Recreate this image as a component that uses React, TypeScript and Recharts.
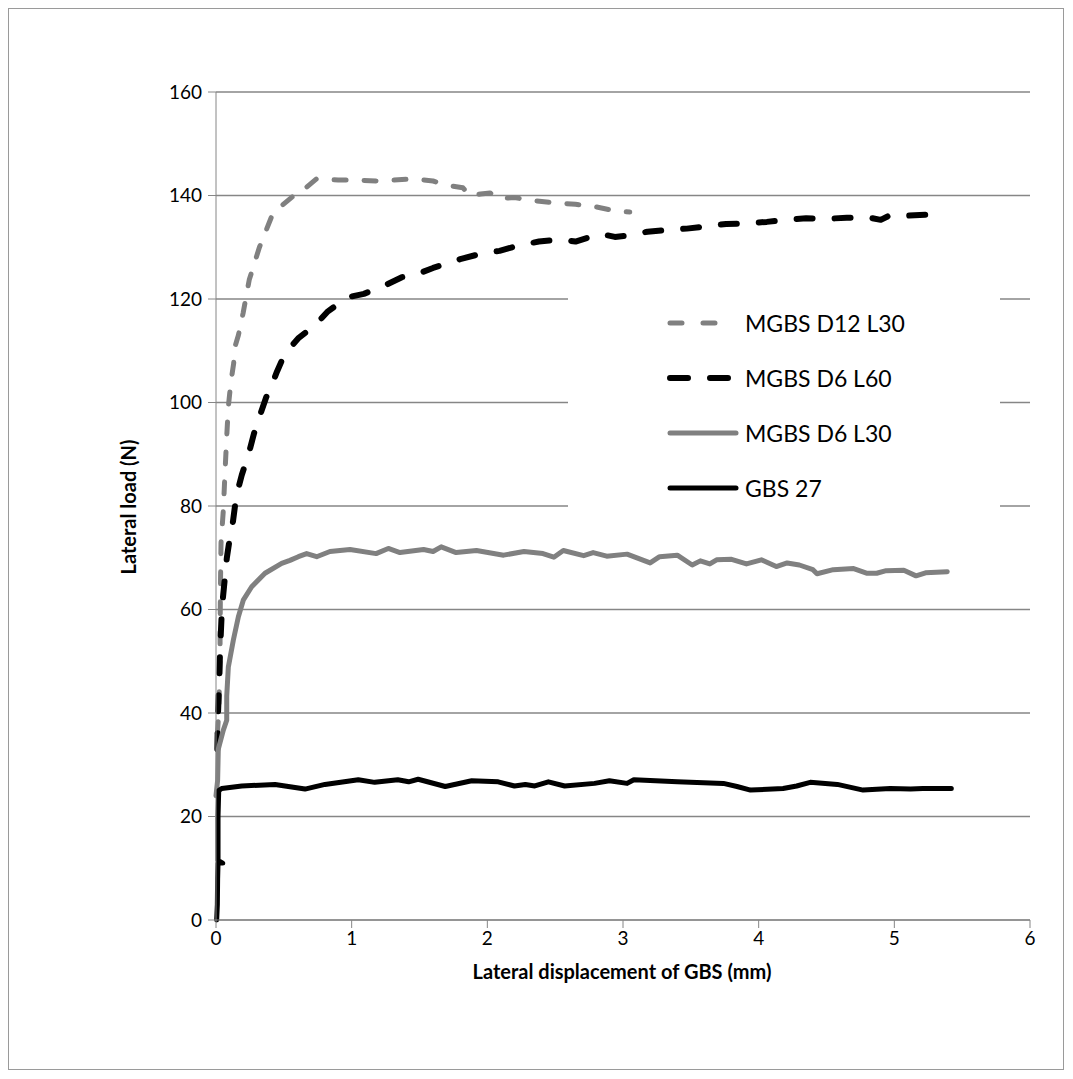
import { LineChart, Line, XAxis, YAxis, CartesianGrid } from "recharts";

// displacement (mm) / load (N) pairs
const d12l30X = [0.01, 0.02, 0.03, 0.03, 0.033, 0.037, 0.054, 0.066, 0.079, 0.091, 0.11, 0.13, 0.14, 0.165, 0.2, 0.245, 0.32, 0.42, 0.56, 0.64, 0.74, 0.9, 1.01, 1.2, 1.45, 1.6, 1.7, 1.82, 1.87, 1.95, 2.02, 2.09, 2.2, 2.31, 2.49, 2.65, 2.8, 2.95, 3.05];
const d12l30Y = [36, 40, 50, 55, 65, 72.8, 79.2, 86.3, 93.4, 99.2, 104, 107.5, 110.8, 113, 117.3, 123.7, 130, 136.6, 139.7, 141, 143.2, 143, 143, 142.8, 143.2, 142.8, 142, 141.5, 139.9, 140.3, 140.5, 139.4, 139.6, 139.1, 138.6, 138.3, 137.8, 137, 136.8];

const d6l60X = [0.01, 0.015, 0.022, 0.03, 0.04, 0.05, 0.065, 0.08, 0.1, 0.125, 0.15, 0.19, 0.24, 0.28, 0.33, 0.37, 0.42, 0.45, 0.5, 0.56, 0.61, 0.7, 0.75, 0.82, 0.94, 1.0, 1.09, 1.22, 1.37, 1.5, 1.6, 1.8, 1.96, 2.09, 2.24, 2.38, 2.54, 2.65, 2.83, 2.94, 3.05, 3.18, 3.3, 3.47, 3.6, 3.76, 3.9, 4.06, 4.2, 4.35, 4.5, 4.65, 4.8, 4.9, 4.97, 5.1, 5.24, 5.32];
const d6l60Y = [33, 40, 45, 52, 58, 62, 66, 70, 73.5, 77, 82, 86, 90, 94, 98, 101, 104, 106, 109, 111, 112.5, 114.3, 115.5, 117.5, 119.8, 120.5, 121, 122.3, 124.2, 125, 126, 127.7, 128.8, 129.3, 130.4, 131.1, 131.5, 131.1, 132.6, 132, 132.3, 133, 133.3, 133.6, 134, 134.5, 134.6, 134.9, 135.3, 135.6, 135.5, 135.7, 135.8, 135.3, 136.2, 136.1, 136.3, 136.2];

const d6l30X = [0, 0.012, 0.017, 0.054, 0.079, 0.079, 0.091, 0.128, 0.165, 0.201, 0.263, 0.361, 0.484, 0.545, 0.607, 0.668, 0.742, 0.84, 0.988, 1.18, 1.27, 1.356, 1.53, 1.6, 1.66, 1.77, 1.92, 2.12, 2.27, 2.41, 2.49, 2.56, 2.71, 2.78, 2.88, 3.03, 3.2, 3.27, 3.4, 3.51, 3.57, 3.64, 3.69, 3.8, 3.91, 4.02, 4.13, 4.21, 4.3, 4.4, 4.43, 4.55, 4.7, 4.8, 4.87, 4.94, 5.07, 5.16, 5.23, 5.39];
const d6l30Y = [24, 27, 33, 36.7, 38.6, 43.2, 48.9, 54.1, 58.6, 61.8, 64.4, 67, 68.9, 69.5, 70.2, 70.8, 70.2, 71.2, 71.6, 70.8, 71.8, 71, 71.6, 71.2, 72.1, 71, 71.4, 70.5, 71.2, 70.8, 70.1, 71.4, 70.4, 71, 70.3, 70.7, 69, 70.2, 70.5, 68.6, 69.4, 68.8, 69.6, 69.7, 68.8, 69.6, 68.3, 69, 68.6, 67.7, 66.9, 67.7, 67.9, 67, 67, 67.5, 67.6, 66.5, 67.1, 67.3];

const gbsX = [0.005, 0.01, 0.012, 0.015, 0.05, 0.015, 0.015, 0.02, 0.042, 0.19, 0.435, 0.656, 0.803, 1.049, 1.17, 1.34, 1.42, 1.49, 1.69, 1.885, 2.08, 2.2, 2.28, 2.35, 2.45, 2.57, 2.79, 2.9, 3.03, 3.08, 3.4, 3.74, 3.84, 3.94, 4.18, 4.28, 4.38, 4.58, 4.77, 4.97, 5.12, 5.21, 5.42];
const gbsY = [0, 3, 8, 11, 11, 11.5, 20, 25, 25.4, 25.9, 26.2, 25.3, 26.2, 27.1, 26.6, 27.1, 26.7, 27.2, 25.8, 26.9, 26.7, 25.9, 26.2, 25.9, 26.7, 25.9, 26.4, 26.9, 26.4, 27.1, 26.7, 26.4, 25.8, 25.1, 25.4, 25.9, 26.6, 26.2, 25.1, 25.4, 25.3, 25.4, 25.4];

const xTicks = [0, 1, 2, 3, 4, 5, 6];
const yTicks = [0, 20, 40, 60, 80, 100, 120, 140, 160];

const toPoints = (xs: number[], ys: number[]) => xs.map((x, i) => ({ x, y: ys[i] }));

const series = [
  { name: "MGBS D12 L30", data: toPoints(d12l30X, d12l30Y), color: "#808080", width: 5, dash: "12 18" },
  { name: "MGBS D6 L60", data: toPoints(d6l60X, d6l60Y), color: "#000000", width: 6, dash: "16 22" },
  { name: "MGBS D6 L30", data: toPoints(d6l30X, d6l30Y), color: "#808080", width: 5, dash: undefined },
  { name: "GBS 27", data: toPoints(gbsX, gbsY), color: "#000000", width: 5, dash: undefined },
];

const FONT = "Lato, 'Open Sans', sans-serif";
const AXIS = "#868686";

export default function App() {
  return (
    <div
      style={{
        position: "relative",
        width: 1054,
        height: 1060,
        border: "1px solid #9a9a9a",
        background: "#fff",
        fontFamily: FONT,
      }}
    >
      <LineChart width={1054} height={1060} margin={{ top: 83, right: 33, left: 147, bottom: 109 }}>
        <CartesianGrid vertical={false} stroke={AXIS} strokeWidth={1.3} />
        <XAxis
          type="number"
          dataKey="x"
          domain={[0, 6]}
          ticks={xTicks}
          height={40}
          stroke={AXIS}
          tickSize={8}
          tickMargin={4}
          tick={{ fill: "#000", fontSize: 19, fontFamily: FONT }}
          allowDuplicatedCategory={false}
        />
        <YAxis
          type="number"
          dataKey="y"
          domain={[0, 160]}
          ticks={yTicks}
          width={60}
          stroke={AXIS}
          tickSize={8}
          tickMargin={6}
          tick={{ fill: "#000", fontSize: 19, fontFamily: FONT }}
        />
        {series.map((s) => (
          <Line
            key={s.name}
            data={s.data}
            dataKey="y"
            name={s.name}
            type="linear"
            stroke={s.color}
            strokeWidth={s.width}
            strokeDasharray={s.dash}
            strokeLinecap="round"
            strokeLinejoin="round"
            dot={false}
            activeDot={false}
            isAnimationActive={false}
          />
        ))}
      </LineChart>

      {/* legend sits on a white box over the gridlines */}
      <div
        style={{
          position: "absolute",
          left: 559,
          top: 241,
          width: 432,
          height: 290,
          background: "#fff",
        }}
      >
        {series.map((s, i) => (
          <div
            key={s.name}
            style={{
              position: "absolute",
              left: 99,
              top: 73 + i * 55 - 16,
              height: 32,
              display: "flex",
              alignItems: "center",
            }}
          >
            <svg width={72} height={12} style={{ display: "block" }}>
              <line
                x1={3}
                x2={69}
                y1={6}
                y2={6}
                stroke={s.color}
                strokeWidth={s.width}
                strokeLinecap="round"
                strokeDasharray={s.dash ? (i === 0 ? "12 21" : "18 22") : undefined}
              />
            </svg>
            <span style={{ marginLeft: 6, fontSize: 23, color: "#000", whiteSpace: "nowrap" }}>{s.name}</span>
          </div>
        ))}
      </div>

      <div
        style={{
          position: "absolute",
          left: 0,
          width: 1226,
          top: 950,
          textAlign: "center",
          fontWeight: "bold",
          fontSize: 20,
          color: "#000",
        }}
      >
        Lateral displacement of GBS (mm)
      </div>
      <div
        style={{
          position: "absolute",
          left: 119,
          top: 498,
          transform: "translate(-50%, -50%) rotate(-90deg)",
          fontWeight: "bold",
          fontSize: 20,
          color: "#000",
          whiteSpace: "nowrap",
        }}
      >
        Lateral load (N)
      </div>
    </div>
  );
}
